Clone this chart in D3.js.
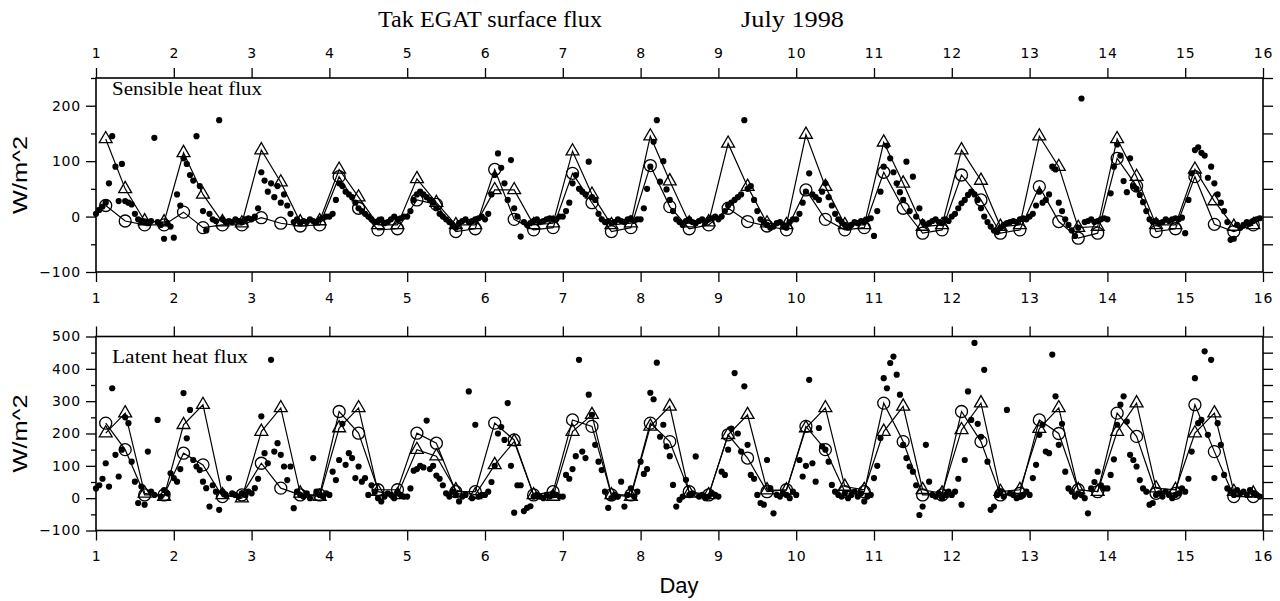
<!DOCTYPE html>
<html><head><meta charset="utf-8">
<script src="https://cdn.jsdelivr.net/npm/d3@7/dist/d3.min.js"></script>
<style>html,body{margin:0;padding:0;background:#fff;}svg{display:block;}</style>
</head><body>
<script>
// ---------------- data ----------------
const dayTicks = d3.range(1, 17);              // 1 .. 16
const modelHours = [3, 9, 15, 21];             // 6-hourly model output times (UTC)
const shTicks = [-100, 0, 100, 200];
const leTicks = [-100, 0, 100, 200, 300, 400, 500];

// Sensible heat flux, model A (triangles), 4 values per day, days 1..15
const shTri = [
  140, 50, -8, -10,   115, 40, -10, -12,   120, 62, -10, -8,   85, 35, -15, -15,
  68, 25, -15, -15,   48, 48, -15, -12,    118, 40, -15, -12,  145, 64, -12, -10,
  132, 54, -12, -15,  148, 54, -15, -15,   134, 60, -18, -15,  120, 65, -18, -15,
  145, 90, -20, -18,  140, 72, -15, -15,   85, 28, -18, -15
];
// Sensible heat flux, model B (circles)
const shCirc = [
  20, -8, -15, -15,   8, -20, -15, -15,    -2, -12, -17, -15,  72, 15, -24, -22,
  30, 22, -27, -22,   85, -5, -24, -20,    78, 25, -27, -20,   92, 18, -22, -15,
  15, -9, -17, -24,   48, -5, -24, -20,    80, 15, -30, -24,   75, 30, -30, -24,
  54, -9, -39, -30,   105, 55, -27, -22,   72, -14, -27, -15
];
// Latent heat flux, model A (triangles)
const leTri = [
  201, 263, 15, 5,    227, 289, 10, 0,     206, 279, 15, 5,    217, 279, 20, 10,
  150, 130, 25, 10,   103, 175, 10, 5,     206, 258, 10, 5,    222, 284, 15, 10,
  196, 258, 25, 25,   217, 279, 36, 26,    206, 284, 26, 15,   211, 294, 20, 26,
  215, 279, 26, 20,   206, 294, 31, 26,    201, 263, 20, 15
];
// Latent heat flux, model B (circles)
const leCirc = [
  232, 150, 10, 10,   139, 103, 5, 10,     108, 31, 10, 10,    268, 201, 26, 26,
  201, 170, 20, 20,   232, 180, 10, 20,    242, 222, 10, 10,   232, 175, 20, 10,
  196, 124, 20, 26,   222, 150, 20, 20,    294, 175, 10, 10,   268, 175, 10, 15,
  242, 200, 26, 20,   263, 191, 15, 15,    289, 144, 5, 5
];
// Observed sensible heat flux, hourly (24 per day), days 1..15
const shObs = [
  5,12,18,25,60,145,90,28,95,28,25,22,5,-5,-8,-10,-12,-8,142,-10,-15,-40,-12,-18,
  -38,40,20,105,95,75,65,145,55,10,-25,5,-5,-8,174,-5,-10,-8,-10,-5,-8,-10,-5,-3,
  -5,0,15,80,65,45,60,35,55,25,40,20,5,-10,-5,-12,-8,-10,-5,-8,-10,-5,-3,0,
  0,5,30,60,55,45,40,35,25,15,10,5,0,-5,-10,-8,-5,-12,-10,-5,0,-5,-3,0,
  0,10,30,40,45,40,35,30,25,15,5,0,-5,-10,-15,-20,-12,-8,-5,-10,-8,-5,-3,0,
  -5,5,40,75,114,88,60,30,102,15,0,-36,-10,-15,-12,-8,-5,-10,-8,-5,-3,-5,-5,0,
  0,10,25,60,75,50,45,40,99,35,30,5,-5,-10,-8,-12,-10,-5,-8,-10,-5,-3,-8,-5,
  -5,15,50,90,135,174,63,100,49,30,10,-5,-10,-15,-8,-5,-10,-12,-8,-5,-10,-5,-3,0,
  -5,0,10,20,25,30,35,40,174,50,55,30,10,-5,-10,-15,-20,-18,-12,-10,-15,-20,-10,-5,
  -5,5,25,45,78,40,35,30,45,60,35,20,5,-5,-10,-15,-20,-15,-10,-12,-8,-10,-5,-3,
  -35,10,45,90,128,105,80,60,44,30,99,10,72,0,15,-10,-15,-12,-8,-5,-10,-12,-5,-8,
  0,5,15,24,30,39,45,40,30,15,0,-10,-18,-25,-28,-20,-15,-12,-10,-8,-10,-5,-3,-5,
  0,5,20,45,25,30,40,90,85,25,10,-5,-15,-25,-35,-20,213,-10,-8,-5,-10,-8,-5,-3,
  -5,42,90,130,110,64,44,105,55,50,39,26,10,-5,-10,-8,-12,-10,-5,-8,-5,-3,-5,-2,
  -30,30,78,120,125,115,110,70,90,60,40,25,10,-10,-42,-40,-15,-20,-15,-10,-12,-8,-5,-3
];
// Observed latent heat flux, hourly (24 per day), days 1..15
const leObs = [
  30,40,60,108,36,340,134,67,150,250,232,113,51,-15,36,-20,144,20,10,242,5,25,15,77,
  62,51,90,325,185,273,118,98,87,51,31,-26,40,20,-36,20,10,62,15,10,5,15,10,20,
  15,31,60,253,139,108,428,144,170,134,98,56,98,-31,20,10,5,15,0,124,20,10,5,15,
  10,82,56,118,230,103,139,124,62,98,51,62,10,40,20,0,-10,5,15,10,0,20,10,5,
  5,30,85,90,100,95,240,90,100,70,60,40,15,5,20,10,-10,5,10,330,0,227,5,10,
  10,20,50,100,200,220,180,294,100,-45,40,40,-40,-30,-25,5,10,5,0,10,5,15,10,5,
  5,72,60,90,130,428,144,124,320,258,165,113,87,20,-30,0,10,5,51,-26,10,30,5,20,
  113,75,90,326,306,419,190,227,160,130,41,-26,-5,5,57,10,15,129,5,10,0,5,15,10,
  5,82,72,150,215,387,200,144,346,165,72,60,10,-15,-20,118,31,-47,10,5,15,10,0,20,
  10,118,67,100,366,108,51,217,160,150,113,41,20,10,5,15,0,10,20,5,15,-10,5,10,
  62,100,186,371,340,418,438,382,320,165,124,98,82,40,-52,-26,165,51,10,5,15,0,10,20,
  10,20,60,-20,118,330,242,480,230,190,397,113,-36,-26,10,20,5,273,15,10,0,5,10,20,
  10,62,103,196,227,144,139,444,315,165,230,82,30,20,5,15,10,0,-47,30,50,82,40,30,
  30,72,120,227,289,315,237,134,118,98,56,30,20,-20,-15,10,15,5,20,10,0,10,15,30,
  20,60,144,371,232,242,454,196,428,62,232,165,72,30,20,10,25,15,20,10,25,15,10,5
];

// ---------------- layout ----------------
const W = 1280, H = 601;
const svg = d3.select('body').append('svg').attr('width', W).attr('height', H);
const x = d3.scaleLinear().domain([1, 16]).range([96, 1263]);
const modelT = i => 1 + Math.floor(i / 4) + modelHours[i % 4] / 24;
const obsT = i => 1 + i / 24;

const sansF = 'DejaVu Sans, sans-serif';
const serifF = 'Liberation Serif, Times New Roman, serif';

// title
svg.append('text').attr('x', 378).attr('y', 27).attr('font-family', serifF)
  .attr('font-size', 23).attr('textLength', 224).attr('lengthAdjust', 'spacingAndGlyphs')
  .text('Tak EGAT surface flux');
svg.append('text').attr('x', 741).attr('y', 27).attr('font-family', serifF)
  .attr('font-size', 23).attr('textLength', 103).attr('lengthAdjust', 'spacingAndGlyphs')
  .text('July 1998');

function panel(cfg) {
  const y = d3.scaleLinear().domain(cfg.domain).range(cfg.range);
  const g = svg.append('g');
  const [y0, y1] = [cfg.range[1], cfg.range[0]];
  const minor = d3.range(cfg.domain[0], cfg.domain[1] + 1, 50);

  const la = g.append('g').attr('transform', `translate(${x.range()[0]},0)`)
    .call(d3.axisLeft(y).tickValues(cfg.ticks).tickSize(10).tickPadding(5).tickFormat(d3.format('d')));
  const lm = g.append('g').attr('transform', `translate(${x.range()[0]},0)`)
    .call(d3.axisLeft(y).tickValues(minor.filter(v => !cfg.ticks.includes(v))).tickSize(5).tickFormat(''));
  const ra = g.append('g').attr('transform', `translate(${x.range()[1]},0)`)
    .call(d3.axisRight(y).tickValues(minor).tickSize(10).tickFormat(''));
  const ta = g.append('g').attr('transform', `translate(0,${y0})`)
    .call(d3.axisTop(x).tickValues(dayTicks).tickSize(10).tickPadding(10)
      .tickFormat(cfg.topLabels ? d3.format('d') : ''));
  const ba = g.append('g').attr('transform', `translate(0,${y1})`)
    .call(d3.axisBottom(x).tickValues(dayTicks).tickSize(10).tickPadding(11).tickFormat(d3.format('d')));
  [la, lm, ra, ta, ba].forEach(a => {
    a.select('.domain').remove();
    a.selectAll('line').attr('stroke', '#000').attr('stroke-width', 1.3);
    a.selectAll('text').attr('font-family', sansF).attr('font-size', 14)
      .attr('letter-spacing', 0.8).attr('fill', '#000');
  });
  g.append('rect').attr('x', x.range()[0]).attr('y', y0)
    .attr('width', x.range()[1] - x.range()[0]).attr('height', y1 - y0)
    .attr('fill', 'none').attr('stroke', '#000').attr('stroke-width', 1.6);

  g.append('text').attr('transform', `translate(27,${(y0 + y1) / 2}) rotate(-90)`)
    .attr('text-anchor', 'middle').attr('font-family', 'Liberation Sans, Arial, sans-serif')
    .attr('font-size', 21).attr('textLength', 78).attr('lengthAdjust', 'spacingAndGlyphs')
    .text('W/m^2');
  g.append('text').attr('x', 112).attr('y', cfg.labelY).attr('font-family', serifF)
    .attr('font-size', 18).attr('textLength', cfg.labelLen).attr('lengthAdjust', 'spacingAndGlyphs')
    .text(cfg.label);

  g.append('g').selectAll('circle').data(cfg.obs).join('circle')
    .attr('cx', (d, i) => x(obsT(i))).attr('cy', d => y(d)).attr('r', 3.1).attr('fill', '#000');

  const line = d3.line().x(d => x(d.t)).y(d => y(d.v));
  const tri = cfg.tri.map((v, i) => ({ t: modelT(i), v }));
  const circ = cfg.circ.map((v, i) => ({ t: modelT(i), v }));
  g.append('path').datum(tri).attr('d', line).attr('fill', 'none').attr('stroke', '#000').attr('stroke-width', 1.2);
  g.append('path').datum(circ).attr('d', line).attr('fill', 'none').attr('stroke', '#000').attr('stroke-width', 1.2);
  const triSym = d3.symbol().type(d3.symbolTriangle).size(72);
  g.append('g').selectAll('path').data(tri).join('path')
    .attr('d', triSym).attr('transform', d => `translate(${x(d.t)},${y(d.v)})`)
    .attr('fill', 'none').attr('stroke', '#000').attr('stroke-width', 1.3);
  g.append('g').selectAll('circle').data(circ).join('circle')
    .attr('cx', d => x(d.t)).attr('cy', d => y(d.v)).attr('r', 6)
    .attr('fill', 'none').attr('stroke', '#000').attr('stroke-width', 1.3);
}

panel({ domain: [-100, 250], range: [272, 78], ticks: shTicks, topLabels: true,
        label: 'Sensible heat flux', labelY: 95, labelLen: 150,
        obs: shObs, tri: shTri, circ: shCirc });
panel({ domain: [-100, 500], range: [530.5, 336.5], ticks: leTicks, topLabels: false,
        label: 'Latent heat flux', labelY: 363, labelLen: 136,
        obs: leObs, tri: leTri, circ: leCirc });

svg.append('text').attr('x', 679).attr('y', 593).attr('text-anchor', 'middle')
  .attr('font-family', 'Liberation Sans, Arial, sans-serif').attr('font-size', 22).text('Day');
</script>
</body></html>
